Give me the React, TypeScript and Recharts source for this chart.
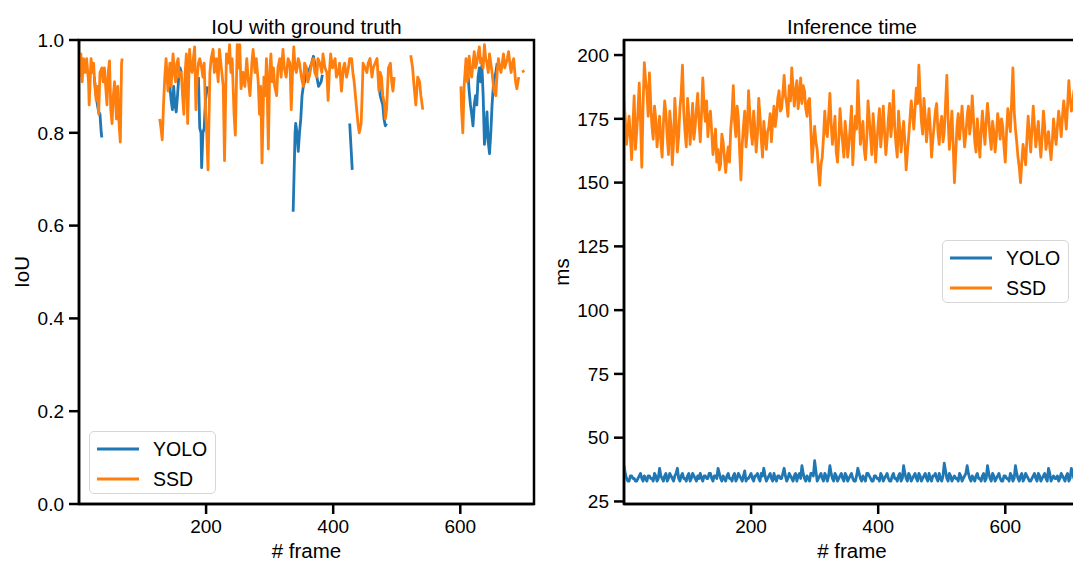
import { LineChart, Line, XAxis, YAxis, Legend, ReferenceArea } from "recharts";

const FONT = '"Liberation Sans", Arial, Helvetica, sans-serif';
const YOLO_COLOR = "#1f77b4";
const SSD_COLOR = "#ff7f0e";
const LEGEND_ORDER = ["YOLO", "SSD"];

const FRAME_MAX = 716;
const FRAME_TICKS = [200, 400, 600];
const IOU_DOMAIN = [0, 1];
const IOU_TICKS = [0, 0.2, 0.4, 0.6, 0.8, 1.0];
const MS_DOMAIN = [24, 205.9];
const MS_TICKS = [25, 50, 75, 100, 125, 150, 175, 200];
const MS_STEP = 2; // one reading every 2 frames

// IoU per frame, [frame, iou]; null marks frames with no detection
const YOLO_IOU: [number, number | null][] = [
  [24, 0.92], [27, 0.88], [29, 0.86], [31, 0.845], [33, 0.84], [35, 0.8], [36, 0.79],
  [60, null],
  [141, 0.93], [143, 0.9], [145, 0.87], [147, 0.85], [149, 0.9], [151, 0.86], [153, 0.845],
  [155, 0.88], [157, 0.92], [159, 0.94], [161, 0.93],
  [175, null],
  [188, 0.92], [190, 0.81], [192, 0.8], [193, 0.725], [195, 0.8], [197, 0.81], [199, 0.87], [202, 0.9],
  [260, null],
  [337, 0.63], [340, 0.8], [341, 0.82], [343, 0.8], [345, 0.76], [347, 0.8], [349, 0.83], [351, 0.88],
  [353, 0.9], [355, 0.91], [358, 0.93], [362, 0.935], [366, 0.95], [369, 0.965], [372, 0.94],
  [375, 0.915], [377, 0.9], [379, 0.905], [381, 0.91], [383, 0.925],
  [400, null],
  [426, 0.82], [428, 0.77], [430, 0.72],
  [450, null],
  [472, 0.9], [474, 0.88], [476, 0.87], [478, 0.86], [480, 0.83], [482, 0.815], [484, 0.82],
  [560, null],
  [612, 0.93], [614, 0.89], [616, 0.86], [618, 0.84], [620, 0.815], [622, 0.86], [624, 0.88],
  [626, 0.86], [628, 0.92], [630, 0.94], [632, 0.91], [634, 0.945], [636, 0.88], [638, 0.775],
  [640, 0.8], [642, 0.845], [644, 0.78], [646, 0.755], [648, 0.8], [650, 0.86], [652, 0.9],
  [654, 0.92], [656, 0.93], [658, 0.95],
];

const SSD_IOU: [number, number | null][] = [
  [2, 0.92], [3, 0.97], [5, 0.91], [7, 0.96], [10, 0.93], [12, 0.96], [15, 0.91], [16, 0.86],
  [19, 0.96], [21, 0.93], [23, 0.95], [25, 0.9], [27, 0.87], [29, 0.9], [31, 0.84], [33, 0.93],
  [36, 0.94], [38, 0.91], [40, 0.94], [42, 0.9], [44, 0.86], [46, 0.93], [48, 0.955], [50, 0.85],
  [52, 0.82], [54, 0.88], [56, 0.91], [59, 0.83], [61, 0.9], [63, 0.82], [65, 0.78], [67, 0.95],
  [68, 0.96],
  [90, null],
  [127, 0.83], [129, 0.81], [131, 0.785], [133, 0.86], [135, 0.92], [137, 0.96], [140, 0.89],
  [143, 0.95], [145, 0.9], [148, 0.97], [150, 0.93], [152, 0.91], [154, 0.95], [156, 0.96],
  [158, 0.92], [161, 0.93], [163, 0.88], [165, 0.84], [167, 0.93], [169, 0.97], [171, 0.82],
  [174, 0.98], [176, 0.94], [178, 0.93], [180, 0.96], [182, 0.985], [184, 0.85], [186, 0.92],
  [188, 0.95], [190, 0.96], [193, 0.94], [195, 0.92], [197, 0.95], [199, 0.85], [201, 0.8],
  [203, 0.72], [206, 0.93], [208, 0.96], [211, 0.98], [213, 0.93], [216, 0.96], [219, 0.91],
  [221, 0.98], [224, 0.94], [227, 0.9], [229, 0.74], [232, 0.97], [235, 0.95], [237, 0.99],
  [239, 0.93], [241, 0.96], [244, 0.84], [246, 0.795], [249, 0.99], [251, 0.94], [253, 0.99],
  [255, 0.895], [258, 0.93], [261, 0.9], [264, 0.96], [266, 0.92], [269, 0.88], [272, 0.95],
  [274, 0.98], [277, 0.93], [279, 0.96], [282, 0.91], [284, 0.84], [286, 0.9], [288, 0.735],
  [291, 0.92], [293, 0.88], [295, 0.96], [298, 0.765], [300, 0.93], [302, 0.97], [304, 0.91],
  [306, 0.94], [308, 0.9], [311, 0.88], [313, 0.94], [316, 0.96], [318, 0.92], [321, 0.98],
  [323, 0.94], [326, 0.92], [329, 0.96], [332, 0.95], [334, 0.85], [336, 0.93], [338, 0.985],
  [340, 0.94], [342, 0.93], [345, 0.96], [347, 0.95], [350, 0.92], [353, 0.9], [355, 0.95],
  [358, 0.94], [360, 0.91], [363, 0.925], [366, 0.95], [369, 0.96], [371, 0.93], [374, 0.92],
  [376, 0.96], [379, 0.95], [382, 0.93], [384, 0.97], [387, 0.94], [390, 0.93], [392, 0.87],
  [394, 0.93], [396, 0.97], [399, 0.94], [403, 0.96], [405, 0.92], [408, 0.93], [410, 0.95],
  [413, 0.89], [416, 0.94], [418, 0.95], [421, 0.92], [424, 0.94], [426, 0.96], [429, 0.96],
  [431, 0.93], [433, 0.91], [435, 0.88], [437, 0.85], [439, 0.82], [441, 0.8], [444, 0.82],
  [446, 0.9], [447, 0.95], [450, 0.94], [453, 0.93], [455, 0.95], [458, 0.96], [461, 0.92],
  [463, 0.94], [466, 0.95], [469, 0.96], [472, 0.89], [474, 0.93], [476, 0.92], [478, 0.88],
  [481, 0.86], [482, 0.83], [484, 0.85], [487, 0.94], [490, 0.95], [492, 0.91], [494, 0.89],
  [496, 0.92],
  [510, null],
  [522, 0.967], [525, 0.94], [527, 0.905], [530, 0.86], [533, 0.92], [536, 0.91], [538, 0.88],
  [541, 0.85],
  [570, null],
  [601, 0.9], [602, 0.85], [604, 0.8], [606, 0.9], [609, 0.96], [611, 0.91], [614, 0.965],
  [616, 0.93], [618, 0.92], [620, 0.95], [622, 0.975], [624, 0.94], [626, 0.95], [628, 0.97],
  [630, 0.985], [632, 0.95], [634, 0.96], [636, 0.94], [638, 0.99], [640, 0.96], [642, 0.95],
  [644, 0.93], [646, 0.97], [648, 0.95], [650, 0.93], [653, 0.89], [656, 0.88], [658, 0.93],
  [660, 0.96], [662, 0.94], [664, 0.93], [666, 0.95], [668, 0.97], [670, 0.94], [672, 0.95],
  [674, 0.96], [676, 0.975], [678, 0.95], [680, 0.93], [682, 0.95], [684, 0.96], [687, 0.91],
  [689, 0.895], [692, 0.92],
  [695, null],
  [698, 0.935], [700, 0.93],
];

// inference time in ms, frames 0, 2, 4, ... 716
const YOLO_MS = [
  39, 36, 34, 33, 33, 35, 35, 34, 34, 33, 33, 34, 35, 36, 34, 33, 35, 34, 33, 35,
  35, 34, 34, 33, 36, 35, 33, 34, 38, 35, 34, 33, 35, 36, 33, 34, 36, 35, 34, 33,
  35, 36, 38, 34, 33, 35, 36, 34, 34, 33, 35, 36, 33, 34, 36, 35, 34, 33, 35, 34,
  36, 34, 33, 35, 35, 34, 34, 36, 36, 34, 33, 35, 35, 34, 38, 36, 34, 33, 35, 34,
  33, 35, 36, 34, 34, 33, 35, 36, 33, 34, 36, 35, 34, 33, 35, 37, 33, 34, 34, 35,
  36, 34, 33, 35, 35, 36, 34, 33, 36, 35, 38, 35, 33, 34, 35, 36, 34, 33, 36, 34,
  33, 35, 35, 34, 34, 36, 38, 35, 33, 34, 36, 35, 34, 33, 35, 36, 33, 35, 36, 34,
  39, 36, 34, 33, 35, 34, 33, 36, 36, 35, 41, 37, 33, 34, 35, 36, 34, 33, 36, 35,
  33, 35, 39, 36, 34, 33, 36, 35, 33, 34, 35, 36, 34, 33, 36, 35, 33, 34, 35, 36,
  34, 33, 33, 35, 38, 36, 34, 33, 35, 34, 33, 36, 36, 35, 34, 33, 33, 35, 35, 34,
  34, 33, 36, 35, 33, 34, 35, 36, 34, 33, 33, 35, 36, 34, 34, 33, 35, 36, 33, 34,
  39, 36, 34, 33, 36, 35, 33, 34, 35, 36, 34, 33, 36, 35, 33, 34, 35, 36, 34, 33,
  36, 34, 33, 35, 35, 36, 34, 33, 36, 34, 33, 35, 40, 37, 34, 33, 36, 35, 33, 34,
  35, 34, 34, 33, 36, 35, 33, 34, 35, 36, 39, 36, 34, 33, 35, 34, 33, 35, 36, 34,
  34, 33, 35, 36, 33, 34, 39, 36, 34, 33, 36, 35, 33, 34, 35, 36, 34, 33, 33, 35,
  35, 34, 34, 33, 36, 35, 33, 34, 39, 36, 34, 33, 35, 36, 33, 34, 36, 35, 34, 33,
  33, 34, 35, 36, 34, 33, 36, 35, 33, 34, 35, 36, 34, 33, 38, 36, 33, 34, 35, 34,
  34, 35, 33, 34, 36, 35, 34, 33, 35, 36, 33, 34, 38, 36, 34, 33, 33, 35, 36,
];

const SSD_MS = [
  182, 175, 165, 170, 176, 168, 159, 172, 184, 163, 170, 178, 189, 174, 156, 180, 197, 190, 186, 176,
  193, 181, 172, 167, 180, 175, 164, 170, 176, 166, 160, 173, 182, 177, 168, 161, 178, 172, 157, 166,
  183, 174, 162, 168, 179, 185, 196, 178, 170, 164, 183, 176, 165, 172, 181, 167, 172, 179, 185, 174,
  166, 177, 191, 180, 174, 182, 168, 175, 178, 170, 161, 166, 171, 158, 163, 155, 157, 169, 166, 160,
  154, 160, 164, 158, 171, 177, 188, 174, 168, 180, 175, 162, 151, 165, 172, 178, 164, 170, 186, 177,
  170, 165, 178, 171, 162, 169, 183, 176, 167, 160, 174, 168, 163, 170, 172, 177, 166, 174, 180, 172,
  176, 183, 186, 178, 179, 185, 192, 184, 181, 176, 188, 182, 195, 187, 180, 186, 190, 179, 184, 191,
  181, 188, 186, 179, 176, 182, 183, 171, 158, 165, 172, 166, 163, 155, 149, 157, 160, 168, 178, 170,
  168, 176, 185, 173, 165, 170, 176, 162, 158, 167, 179, 171, 166, 160, 174, 168, 160, 165, 172, 180,
  157, 168, 176, 171, 190, 178, 165, 170, 174, 163, 159, 167, 182, 175, 168, 161, 177, 170, 158, 166,
  173, 179, 164, 171, 180, 170, 161, 167, 175, 181, 168, 174, 186, 172, 165, 160, 178, 171, 162, 168,
  174, 166, 155, 162, 168, 175, 182, 177, 171, 179, 187, 181, 196, 184, 174, 169, 183, 176, 166, 172,
  179, 171, 160, 167, 172, 178, 181, 170, 165, 173, 176, 166, 170, 181, 192, 175, 163, 170, 178, 165,
  150, 161, 172, 177, 167, 173, 180, 171, 164, 169, 176, 180, 169, 174, 184, 175, 166, 162, 175, 168,
  160, 170, 178, 171, 165, 174, 181, 175, 168, 163, 174, 170, 162, 168, 177, 173, 167, 175, 172, 164,
  158, 170, 179, 174, 170, 182, 195, 178, 171, 166, 160, 156, 150, 158, 165, 161, 157, 167, 176, 169,
  162, 171, 180, 172, 164, 169, 174, 166, 160, 168, 178, 172, 163, 167, 170, 164, 159, 166, 175, 169,
  165, 172, 178, 174, 168, 176, 182, 177, 171, 180, 190, 183, 178, 181, 186, 179, 172, 177, 183,
];

const toPoints = (pairs: [number, number | null][]) =>
  pairs.map(([frame, iou]) => ({ frame, iou }));

const msRows = SSD_MS.map((ssd, i) => ({
  frame: i * MS_STEP,
  yolo: YOLO_MS[i],
  ssd,
}));

const tickStyle = { fill: "#000", fontSize: 19, fontFamily: FONT };
const spine = { stroke: "#000", strokeWidth: 2.5 };
const chartMargin = { top: 40, right: 26, bottom: 0, left: 19 };
const LINE_WIDTH = 2.8;

function LegendBox(props: any) {
  const items = [...(props.payload || [])].sort(
    (a: any, b: any) => LEGEND_ORDER.indexOf(a.value) - LEGEND_ORDER.indexOf(b.value)
  );
  return (
    <div
      style={{
        width: 127,
        height: 63,
        boxSizing: "border-box",
        border: "1px solid #d6d6d6",
        borderRadius: 5,
        background: "rgba(255,255,255,0.8)",
        paddingTop: 2,
        fontFamily: FONT,
        fontSize: 19.5,
        color: "#000",
      }}
    >
      {items.map((item: any) => (
        <div key={item.value} style={{ display: "flex", alignItems: "center", height: 30 }}>
          <svg width={56} height={10} style={{ display: "block" }}>
            <line x1={7} x2={49} y1={5} y2={5} stroke={item.color} strokeWidth={3} />
          </svg>
          <span style={{ marginLeft: 7, lineHeight: "30px" }}>{item.value}</span>
        </div>
      ))}
    </div>
  );
}

function frameAxis() {
  return (
    <XAxis
      dataKey="frame"
      type="number"
      domain={[0, FRAME_MAX]}
      ticks={FRAME_TICKS}
      height={57}
      tickSize={10}
      tickMargin={6}
      tick={tickStyle}
      tickLine={spine}
      axisLine={spine}
      allowDataOverflow
    />
  );
}

export default function App() {
  return (
    <div
      style={{
        position: "fixed",
        left: 0,
        top: 0,
        width: 1073,
        height: 561,
        overflow: "hidden",
        background: "#fff",
      }}
    >
      <div style={{ position: "absolute", left: 0, top: 0 }}>
        <LineChart width={560} height={561} margin={chartMargin}>
          {frameAxis()}
          <YAxis
            type="number"
            domain={IOU_DOMAIN}
            ticks={IOU_TICKS}
            width={60}
            tickSize={10}
            tickMargin={5}
            tick={tickStyle}
            tickLine={spine}
            axisLine={spine}
            tickFormatter={(v: number) => v.toFixed(1)}
            allowDataOverflow
          />
          <Line
            data={toPoints(YOLO_IOU)}
            dataKey="iou"
            name="YOLO"
            type="linear"
            stroke={YOLO_COLOR}
            strokeWidth={LINE_WIDTH}
            strokeLinejoin="round"
            dot={false}
            activeDot={false}
            isAnimationActive={false}
          />
          <Line
            data={toPoints(SSD_IOU)}
            dataKey="iou"
            name="SSD"
            type="linear"
            stroke={SSD_COLOR}
            strokeWidth={LINE_WIDTH}
            strokeLinejoin="round"
            dot={false}
            activeDot={false}
            isAnimationActive={false}
          />
          <ReferenceArea
            x1={0}
            x2={FRAME_MAX}
            y1={IOU_DOMAIN[0]}
            y2={IOU_DOMAIN[1]}
            fill="none"
            stroke="#000"
            strokeWidth={2.5}
            ifOverflow="visible"
          />
          <Legend
            layout="vertical"
            align="center"
            verticalAlign="middle"
            content={<LegendBox />}
            wrapperStyle={{ left: 89, top: 431, width: 127, height: 63 }}
          />
        </LineChart>
      </div>

      <div style={{ position: "absolute", left: 545, top: 0 }}>
        <LineChart width={560} height={561} margin={chartMargin} data={msRows}>
          {frameAxis()}
          <YAxis
            type="number"
            domain={MS_DOMAIN}
            ticks={MS_TICKS}
            width={60}
            tickSize={10}
            tickMargin={5}
            tick={tickStyle}
            tickLine={spine}
            axisLine={spine}
            allowDataOverflow
          />
          <Line
            dataKey="yolo"
            name="YOLO"
            type="linear"
            stroke={YOLO_COLOR}
            strokeWidth={LINE_WIDTH}
            strokeLinejoin="round"
            dot={false}
            activeDot={false}
            isAnimationActive={false}
          />
          <Line
            dataKey="ssd"
            name="SSD"
            type="linear"
            stroke={SSD_COLOR}
            strokeWidth={LINE_WIDTH}
            strokeLinejoin="round"
            dot={false}
            activeDot={false}
            isAnimationActive={false}
          />
          <ReferenceArea
            x1={0}
            x2={FRAME_MAX}
            y1={MS_DOMAIN[0]}
            y2={MS_DOMAIN[1]}
            fill="none"
            stroke="#000"
            strokeWidth={2.5}
            ifOverflow="visible"
          />
          <Legend
            layout="vertical"
            align="center"
            verticalAlign="middle"
            content={<LegendBox />}
            wrapperStyle={{ left: 397, top: 240, width: 127, height: 63 }}
          />
        </LineChart>
      </div>

      <svg
        width={1073}
        height={561}
        style={{ position: "absolute", left: 0, top: 0, pointerEvents: "none" }}
        fontFamily={FONT}
        fill="#000"
      >
        <text x={306.5} y={34} fontSize={20.5} textAnchor="middle">IoU with ground truth</text>
        <text x={852} y={34} fontSize={20.5} textAnchor="middle">Inference time</text>
        <text x={306.5} y={558} fontSize={20.5} textAnchor="middle"># frame</text>
        <text x={852} y={558} fontSize={20.5} textAnchor="middle"># frame</text>
        <text x={28.5} y={272} fontSize={20.5} textAnchor="middle" transform="rotate(-90 28.5 272)">IoU</text>
        <text x={569} y={272} fontSize={20.5} textAnchor="middle" transform="rotate(-90 569 272)">ms</text>
      </svg>
    </div>
  );
}
